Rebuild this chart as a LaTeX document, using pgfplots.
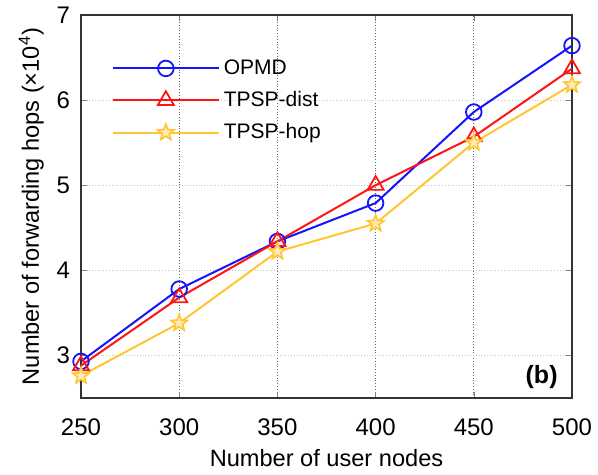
\documentclass[border=0pt]{standalone}
\usepackage{fontspec}
\setmainfont{Liberation Sans}
\usepackage{pgfplots}
\pgfplotsset{compat=1.18}
\definecolor{opmdBlue}{RGB}{20,20,255}
\definecolor{distRed}{RGB}{255,20,20}
\definecolor{hopYellow}{RGB}{255,198,50}

% outlined five-pointed star, like MATLAB's pentagram
\pgfdeclareplotmark{pentagram}{%
  \pgfpathmoveto{\pgfpointpolar{90}{\pgfplotmarksize}}%
  \foreach \a in {126,198,270,342,54}{%
    \pgfpathlineto{\pgfpointpolar{\a}{0.42\pgfplotmarksize}}%
    \pgfmathsetmacro\b{\a+36}%
    \pgfpathlineto{\pgfpointpolar{\b}{\pgfplotmarksize}}%
  }%
  \pgfpathclose
  \pgfusepathqfillstroke
}

\begin{document}
\begin{tikzpicture}
\begin{axis}[
  scale only axis,
  width=245.5pt,
  height=191.5pt,
  xmin=250, xmax=500,
  ymin=2.5, ymax=7,
  xtick={250,300,350,400,450,500},
  ytick={3,4,5,6,7},
  tick align=inside,
  major tick length=3pt,
  xmajorgrids, ymajorgrids,
  x grid style={densely dotted, black!60},
  y grid style={densely dotted, gray!45},
  axis line style={black!80, line width=0.8pt},
  tick label style={font=\fontsize{12}{14}\selectfont},
  xticklabel style={yshift=-7pt},
  yticklabel style={xshift=-2pt},
  label style={font=\fontsize{11.8}{13}\selectfont},
  /pgf/number format/assume math mode=true,
  xlabel={Number of user nodes},
  ylabel={Number of forwarding hops (×10\textsuperscript{4})},
  xlabel style={yshift=0pt},
  ylabel style={yshift=-0.5pt},
  legend style={at={(rel axis cs:0.062,0.895)}, anchor=north west, draw=none, fill=none,
    font=\fontsize{10.5}{12}\selectfont, row sep=3pt, inner sep=0pt},
  legend cell align=left,
  legend image code/.code={\draw[mark repeat=2,mark phase=2] plot coordinates {(0pt,0pt) (26.5pt,0pt) (53pt,0pt)};},
  every axis plot/.append style={line width=1pt},
  mark size=3.9pt,
]
\addplot[color=opmdBlue, mark=o, mark options={line width=0.9pt}] coordinates {
  (250,2.93) (300,3.78) (350,4.34) (400,4.79) (450,5.86) (500,6.64)
};
\addlegendentry{OPMD}
\addplot[color=distRed, mark=triangle, mark options={line width=0.9pt}, mark size=4.6pt] coordinates {
  (250,2.88) (300,3.68) (350,4.34) (400,5.00) (450,5.57) (500,6.37)
};
\addlegendentry{TPSP-dist}
\addplot[color=hopYellow, mark=pentagram, mark size=4.3pt,
  mark options={line width=0.8pt, fill=hopYellow!35}] coordinates {
  (250,2.76) (300,3.38) (350,4.22) (400,4.55) (450,5.50) (500,6.18)
};
\addlegendentry{TPSP-hop}
\node[anchor=south east, font=\bfseries\fontsize{12.5}{14}\selectfont] at (rel axis cs:0.985,0.005) {(b)};
\coordinate (SW) at (rel axis cs:0,0);
\coordinate (NE) at (rel axis cs:1,1);
\end{axis}
\pgfresetboundingbox
\path ([shift={(-40.5pt,-38.5pt)}]SW) rectangle ([shift={(13pt,7.5pt)}]NE);
\end{tikzpicture}
\end{document}
